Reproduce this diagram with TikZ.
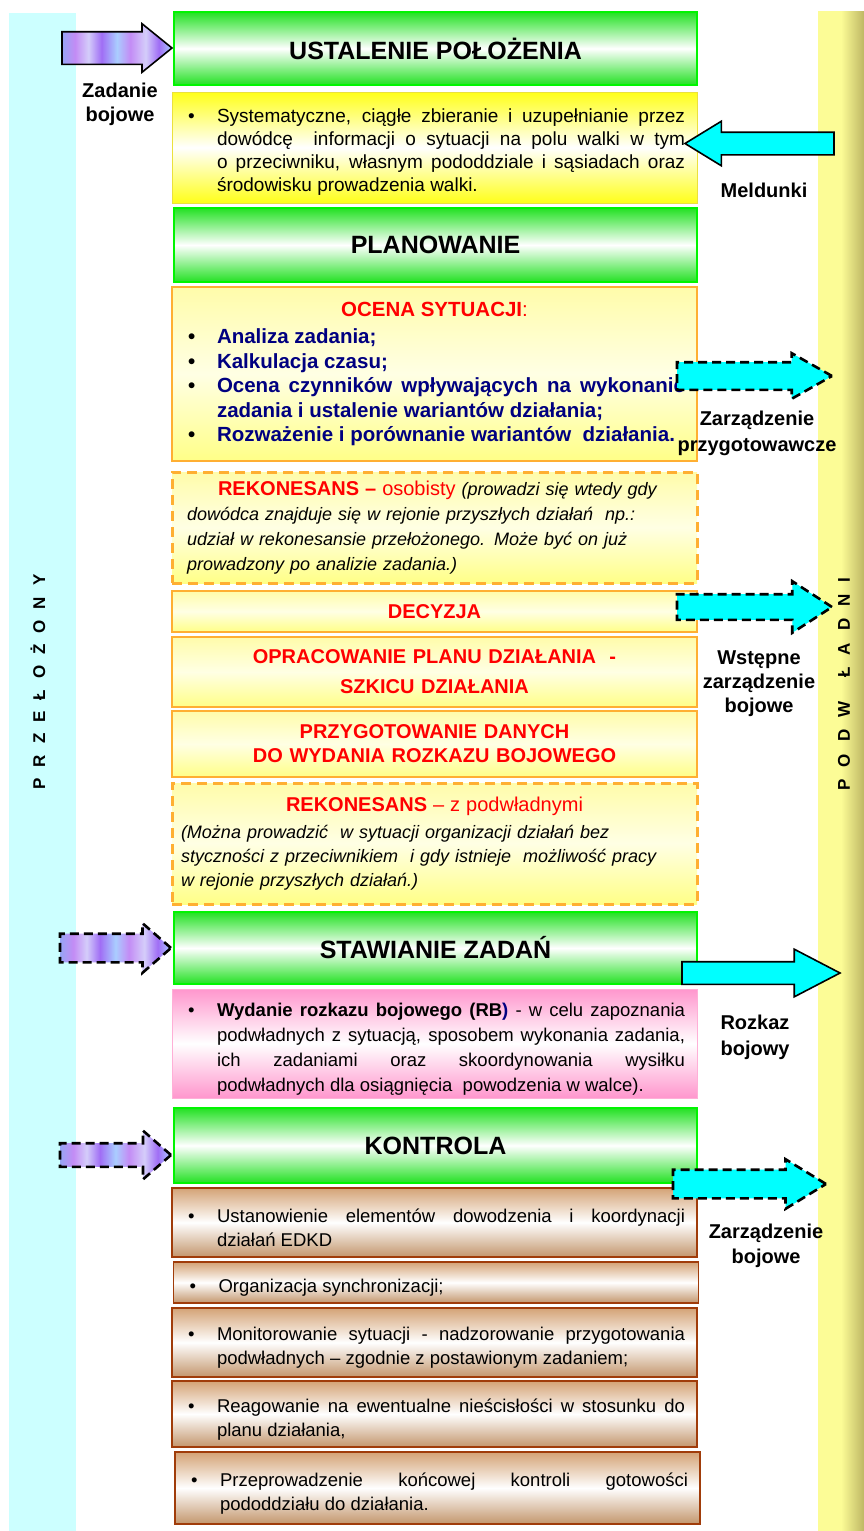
\documentclass[tikz,border=0pt]{standalone}
\usepackage{fontspec}
\setmainfont{Liberation Sans}
\usepackage{xcolor}
\usetikzlibrary{shapes.arrows}

\definecolor{barcyan}{RGB}{204,255,255}
\definecolor{baryellow}{RGB}{252,252,150}
\definecolor{barolive}{RGB}{190,183,100}
\definecolor{hdgreen}{RGB}{35,225,35}
\definecolor{hdline}{RGB}{0,245,0}
\definecolor{noteyellow}{RGB}{255,255,25}
\definecolor{noteline}{RGB}{235,225,60}
\definecolor{planorange}{RGB}{255,175,50}
\definecolor{planlight}{RGB}{255,252,170}
\definecolor{planpale}{RGB}{255,255,228}
\definecolor{plandeep}{RGB}{255,255,135}
\definecolor{rbpink}{RGB}{255,150,205}
\definecolor{rbline}{RGB}{255,175,215}
\definecolor{ctrlbrown}{RGB}{160,60,10}
\definecolor{ctrltan}{RGB}{212,163,118}
\definecolor{arrcyan}{RGB}{0,255,255}
\definecolor{txtnavy}{RGB}{0,0,128}
\definecolor{stripeA}{RGB}{150,165,245}
\definecolor{stripeB}{RGB}{195,140,245}
\definecolor{stripeC}{RGB}{212,205,250}
\definecolor{stripeD}{RGB}{160,110,245}
\definecolor{stripeE}{RGB}{170,205,255}

\pgfdeclarehorizontalshading{zadstripes}{100bp}{color(0bp)=(stripeA); color(25bp)=(stripeA);
  color(31bp)=(stripeB); color(37bp)=(stripeC); color(43bp)=(stripeD); color(50bp)=(stripeE);
  color(56bp)=(stripeB); color(63bp)=(stripeC); color(69bp)=(stripeD); color(75bp)=(stripeE);
  color(100bp)=(stripeE)}

\newcommand{\bulitem}[1]{\par\noindent\hangindent=33pt\hangafter=1%
  \makebox[33pt][l]{\hspace{4pt}\textcolor{black}{\textbullet}}#1\par}

\begin{document}
\begin{tikzpicture}[
  x=1pt, y=-1pt,
  every node/.style={inner sep=0pt, outer sep=0pt},
  stagebox/.style={draw=hdline, line width=1.6pt, top color=hdgreen, bottom color=hdgreen,
                   middle color=white, minimum width=523pt, font=\fontsize{25}{30}\selectfont\bfseries},
  notebox/.style={draw=noteline, line width=0.8pt, top color=noteyellow, bottom color=noteyellow,
                  middle color=white, inner xsep=12pt, text width=501pt, align=justify,
                  font=\fontsize{19}{23}\selectfont},
  planbox/.style={draw=planorange, line width=1.6pt, top color=planlight, bottom color=plandeep,
                  middle color=planpale, inner xsep=12pt, text width=501pt, align=center,
                  text=red, font=\fontsize{20}{24}\selectfont\bfseries},
  rekbox/.style={planbox, line width=3pt, dash pattern=on 10pt off 6pt, align=left, text=black,
                 font=\fontsize{18}{25}\selectfont\itshape},
  rbbox/.style={draw=rbline, line width=1pt, top color=rbpink, bottom color=rbpink,
                middle color=white, inner xsep=12pt, text width=501pt, align=justify,
                font=\fontsize{18.5}{25}\selectfont},
  ctrlbox/.style={draw=ctrlbrown, line width=1.6pt, top color=ctrltan, bottom color=ctrltan!92!black,
                  middle color=white, inner xsep=12pt, text width=501pt, align=justify,
                  font=\fontsize{18.5}{24}\selectfont},
  bigarrow/.style={single arrow, draw=black, line width=1.6pt, anchor=tail, inner xsep=0pt},
  arrowdims/.style n args={5}{minimum height=#1, minimum width=#2, inner ysep=#3,
                              single arrow head extend=#4, single arrow tip angle=#5},
  cyanarrow/.style={bigarrow, fill=arrcyan},
  dashcyan/.style={cyanarrow, line width=2.6pt, dash pattern=on 9pt off 5pt},
  stripearrow/.style={bigarrow, shade, shading=zadstripes},
  dashstripe/.style={stripearrow, line width=2.6pt, dash pattern=on 9pt off 5pt},
  lbl/.style={align=center, font=\fontsize{20}{25}\selectfont\bfseries},
  sidetxt/.style={rotate=90, font=\fontsize{17}{20}\selectfont\bfseries},
]
\useasboundingbox (0,0) rectangle (864,1531);

%% Side bars: superior (left) | subordinates (right)
\node[fill=barcyan, minimum width=67pt, minimum height=1518pt] (leftbar) at (42.5,772) {};
\node[left color=baryellow, right color=barolive, middle color=baryellow,
      minimum width=46pt, minimum height=1520pt] (rightbar) at (841,771) {};
\node[sidetxt] (przelozony) at (38,682) {\spaceskip=11pt P R Z E Ł O Ż O N Y};
\node[sidetxt] (podwladni) at (844,684) {\spaceskip=12pt P O D W\hspace{12pt} Ł A D N I};

%% Stage 1: situation
\node[stagebox, minimum height=73pt] (ustalenie) at (435.5,48.5) {USTALENIE POŁOŻENIA};
\node[notebox, minimum height=111pt] (ustalTxt) at (434.5,147.5)
  {\bulitem{Systematyczne, ciągłe zbieranie i uzupełnianie przez\linebreak
   dowódcę\ \ informacji o sytuacji na polu walki w tym\linebreak
   o przeciwniku, własnym pododdziale i sąsiadach oraz\linebreak
   środowisku prowadzenia walki.}};

%% Stage 2: planning
\node[stagebox, minimum height=74pt] (planowanie) at (435.5,245) {PLANOWANIE};
\node[planbox, minimum height=174pt, align=justify, font=\fontsize{20.5}{24.5}\selectfont\bfseries] (ocena) at (434.5,374)
  {\centerline{\textbf{OCENA SYTUACJI}\mdseries:}\vspace{3pt}
   \bulitem{\textcolor{txtnavy}{Analiza zadania;}}
   \bulitem{\textcolor{txtnavy}{Kalkulacja czasu;}}
   \bulitem{\textcolor{txtnavy}{Ocena czynników wpływających na wykonanie\linebreak
     zadania i ustalenie wariantów działania;}}
   \bulitem{\textcolor{txtnavy}{Rozważenie i porównanie wariantów\ \ działania.}}};
\node[rekbox, minimum height=111pt, inner xsep=15pt, text width=495pt] (rekon1) at (434.5,527.5)
  {\hspace*{31pt}{\fontsize{20}{25}\selectfont\upshape\color{red}\textbf{REKONESANS –} osobisty}
   (prowadzi się wtedy gdy\\
   dowódca znajduje się w rejonie przyszłych działań\ \ np.:\\
   udział w rekonesansie przełożonego. Może być on już\\
   prowadzony po analizie zadania.)};
\node[planbox, minimum height=41pt] (decyzja) at (434.5,611.5) {DECYZJA};
\node[planbox, minimum height=70pt, font=\fontsize{20}{30}\selectfont\bfseries] (opracowanie) at (434.5,672)
  {OPRACOWANIE PLANU DZIAŁANIA\ \ -\\SZKICU DZIAŁANIA};
\node[planbox, minimum height=66pt] (przygot) at (434.5,744)
  {PRZYGOTOWANIE DANYCH\\DO WYDANIA ROZKAZU BOJOWEGO};
\node[rekbox, minimum height=121pt, inner xsep=9pt, text width=507pt, font=\fontsize{18}{24}\selectfont\itshape]
  (rekon2) at (434.5,843.5)
  {\centerline{\fontsize{20}{25}\selectfont\upshape\color{red}\textbf{REKONESANS} – z podwładnymi}\vspace{3pt}
   (Można prowadzić\ \ w sytuacji organizacji działań bez\\
   styczności z przeciwnikiem\ \ i gdy istnieje\ \ możliwość pracy\\
   w rejonie przyszłych działań.)};

%% Stage 3: tasking
\node[stagebox, minimum height=72pt] (stawianie) at (435.5,948) {STAWIANIE ZADAŃ};
\node[rbbox, minimum height=109pt] (wydanie) at (434.5,1043.5)
  {\bulitem{\textbf{Wydanie rozkazu bojowego (RB}\textcolor{txtnavy}{\textbf{)}} - w celu zapoznania\linebreak
   podwładnych z sytuacją, sposobem wykonania zadania,\linebreak
   ich zadaniami oraz skoordynowania wysiłku\linebreak
   podwładnych dla osiągnięcia\ \ powodzenia w walce).}};

%% Stage 4: control
\node[stagebox, minimum height=75pt] (kontrola) at (435.5,1145.5) {KONTROLA};
\node[ctrlbox, minimum height=69pt] (ctrl1) at (434.5,1222.5)
  {\bulitem{Ustanowienie elementów dowodzenia i koordynacji\linebreak działań EDKD}};
\node[ctrlbox, minimum height=41pt] (ctrl2) at (436,1282.5)
  {\bulitem{Organizacja synchronizacji;}};
\node[ctrlbox, minimum height=69pt] (ctrl3) at (434.5,1342.5)
  {\bulitem{Monitorowanie sytuacji - nadzorowanie przygotowania\linebreak
   podwładnych – zgodnie z postawionym zadaniem;}};
\node[ctrlbox, minimum height=66pt] (ctrl4) at (434.5,1414)
  {\bulitem{Reagowanie na ewentualne nieścisłości w stosunku do\linebreak planu działania,}};
\node[ctrlbox, minimum height=72pt] (ctrl5) at (437.5,1488)
  {\bulitem{Przeprowadzenie końcowej kontroli gotowości\linebreak pododdziału do działania.}};

%% Block arrows
\node[stripearrow, arrowdims={110pt}{47pt}{15.5pt}{8pt}{78}] (zadArrow) at (62,48) {};
\node[cyanarrow, shape border rotate=180, arrowdims={149pt}{43pt}{10.5pt}{11pt}{63}] (melArrow) at (834,143.5) {};
\node[dashcyan, arrowdims={155pt}{43pt}{12.5pt}{9pt}{59}] (przArrow) at (677,376) {};
\node[dashcyan, arrowdims={155pt}{49pt}{11.5pt}{13pt}{66}] (wstArrow) at (677,607) {};
\node[dashstripe, arrowdims={111pt}{47pt}{13pt}{10.5pt}{82}] (stArrow) at (60,948) {};
\node[cyanarrow, arrowdims={158pt}{46pt}{10.5pt}{12.5pt}{55}] (rozArrow) at (682,973) {};
\node[dashstripe, arrowdims={111pt}{46pt}{10.5pt}{12.5pt}{82}] (koArrow) at (60,1155) {};
\node[dashcyan, arrowdims={153pt}{47pt}{13pt}{10.5pt}{63}] (zbArrow) at (673,1184) {};

%% Arrow labels
\node[lbl, font=\fontsize{20}{24}\selectfont\bfseries] (zadLbl) at (120,104) {Zadanie\\bojowe};
\node[lbl] (melLbl) at (764,190) {Meldunki};
\node[lbl, font=\fontsize{20}{26}\selectfont\bfseries] (przLbl) at (757,433) {Zarządzenie\\przygotowawcze};
\node[lbl, font=\fontsize{20}{24}\selectfont\bfseries] (wstLbl) at (759,684) {Wstępne\\zarządzenie\\bojowe};
\node[lbl, font=\fontsize{20}{26}\selectfont\bfseries] (rozLbl) at (755,1037) {Rozkaz\\bojowy};
\node[lbl] (zbLbl) at (766,1246) {Zarządzenie\\bojowe};

\end{tikzpicture}
\end{document}
